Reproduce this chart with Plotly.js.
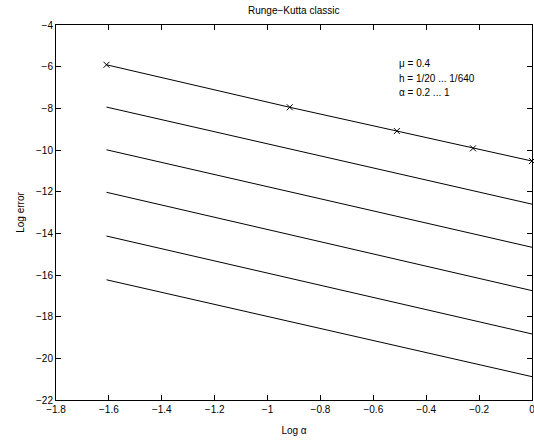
<!DOCTYPE html>
<html><head><meta charset="utf-8">
<script src="https://cdn.plot.ly/plotly-3.0.1.min.js"></script>
<style>html,body{margin:0;padding:0;background:#fff;overflow:hidden;}#plot{width:534px;height:443px;}</style>
</head><body><div id="plot"></div>
<script>
var logAlpha = [-1.609, -0.916, -0.511, -0.223, 0];
var err1 = [-5.91, -7.95, -9.09, -9.92, -10.53];
var err2 = [-7.94, -9.95, -11.12, -11.95, -12.60];
var err3 = [-9.99, -12.01, -13.18, -14.02, -14.67];
var err4 = [-12.03, -14.05, -15.25, -16.10, -16.75];
var err5 = [-14.13, -16.15, -17.34, -18.18, -18.83];
var err6 = [-16.23, -18.23, -19.40, -20.24, -20.88];
var xTicks = [-1.8, -1.6, -1.4, -1.2, -1, -0.8, -0.6, -0.4, -0.2, 0];
var yTicks = [-22, -20, -18, -16, -14, -12, -10, -8, -6, -4];
var note = ["\u03bc = 0.4", "h = 1/20 ... 1/640", "\u03b1 = 0.2 ... 1"];

var series = [err1, err2, err3, err4, err5, err6];
var traces = series.map(function(s, i){
  return {x: logAlpha, y: s, type: 'scatter',
    mode: i === 0 ? 'lines+markers' : 'lines',
    line: {color: '#000', width: 1},
    marker: {symbol: 'x-thin', size: 6, line: {color: '#000', width: 1}},
    cliponaxis: false, showlegend: false};
});
var font = {family: 'Liberation Sans, Arial, sans-serif', size: 10, color: '#000'};
var layout = {
  width: 534, height: 443,
  margin: {l: 56, r: 2, t: 25, b: 43},
  paper_bgcolor: '#fff', plot_bgcolor: '#fff',
  font: font,
  title: {text: 'Runge\u2212Kutta classic', font: {family: font.family, size: 10, color: '#000'}, x: 0.55, xanchor: 'center', y: 0.985, yanchor: 'top'},
  xaxis: {range: [-1.8, 0], tickvals: xTicks, ticks: 'inside', ticklen: 5, tickcolor: '#000',
    ticklabeloverflow: 'allow',
    showgrid: false, zeroline: false, showline: true, linecolor: '#000', linewidth: 1, mirror: 'ticks',
    title: {text: 'Log \u03b1', font: font, standoff: 12}, tickfont: font},
  yaxis: {range: [-22, -4], tickvals: yTicks, ticks: 'inside', ticklen: 5, tickcolor: '#000',
    ticklabeloverflow: 'allow',
    showgrid: false, zeroline: false, showline: true, linecolor: '#000', linewidth: 1, mirror: 'ticks',
    title: {text: 'Log error', font: font, standoff: 9}, tickfont: font},
  annotations: note.map(function(t, i){
    return {x: -0.51, y: -5.85 - i*0.7, xref: 'x', yref: 'y', text: t, showarrow: false,
      xanchor: 'left', yanchor: 'middle', font: font};
  })
};
Plotly.newPlot('plot', traces, layout, {displayModeBar: false, staticPlot: true});
</script></body></html>
